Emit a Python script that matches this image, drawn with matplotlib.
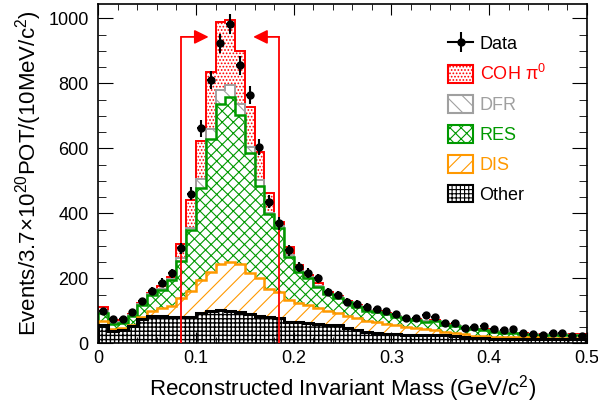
import numpy as np
import matplotlib.pyplot as plt
from matplotlib.patches import Patch
from matplotlib.lines import Line2D
from matplotlib.ticker import MultipleLocator, FuncFormatter

plt.rcParams['font.family'] = ['Liberation Sans', 'DejaVu Sans']
plt.rcParams['mathtext.fontset'] = 'custom'
plt.rcParams['mathtext.rm'] = 'Liberation Sans'
plt.rcParams['mathtext.it'] = 'Liberation Sans:italic'
plt.rcParams['hatch.linewidth'] = 0.8

# 10 MeV/c^2 bins from 0 to 0.5 GeV/c^2
edges = np.linspace(0.0, 0.5, 51)

data = np.array([100, 74, 74, 96, 129, 161, 187, 215, 292, 461,
                 662, 810, 923, 982, 856, 764, 605, 436, 369, 287,
                 234, 217, 200, 157, 149, 127, 121, 112, 105, 99,
                 90, 79, 78, 87, 82, 63, 62, 47, 49, 53,
                 43, 40, 44, 33, 28, 26, 31, 32, 21, 21])

other = np.array([55, 38, 42, 52, 74, 84, 84, 80, 80, 82,
                  92, 99, 102, 100, 97, 90, 85, 80, 77, 66,
                  64, 61, 60, 56, 55, 47, 40, 36, 32, 30,
                  29, 27, 27, 26, 26, 24, 22, 19, 17, 15,
                  14, 14, 13, 13, 12, 12, 12, 12, 12, 12])

dis = np.array([15, 6, 5, 5, 8, 16, 24, 35, 60, 78,
                103, 121, 141, 151, 147, 125, 115, 88, 82, 67,
                60, 56, 50, 43, 38, 37, 37, 33, 33, 30,
                27, 24, 19, 17, 15, 12, 9, 10, 6, 6,
                5, 4, 5, 5, 6, 5, 5, 5, 5, 5])

res = np.array([24, 15, 15, 27, 36, 49, 56, 80, 112, 189,
                282, 408, 493, 508, 458, 371, 284, 230, 195, 133,
                94, 83, 64, 52, 47, 42, 36, 30, 30, 29,
                26, 23, 26, 24, 28, 20, 23, 17, 20, 20,
                17, 15, 13, 11, 9, 9, 10, 10, 9, 9])

dfr = np.array([4, 3, 3, 3, 3, 3, 4, 4, 9, 7,
                28, 33, 45, 36, 34, 19, 18, 4, 6, 6,
                3, 3, 3, 2, 2, 2, 2, 2, 2, 2,
                1, 1, 1, 1, 1, 1, 1, 1, 1, 1,
                1, 1, 1, 1, 1, 1, 1, 1, 1, 1])

coh = np.array([15, 10, 5, 3, 4, 4, 8, 6, 44, 85,
                118, 175, 208, 200, 164, 123, 88, 60, 14, 25,
                20, 7, 8, 4, 4, 3, 2, 1, 1, 1,
                1, 1, 1, 1, 1, 1, 1, 1, 1, 1,
                1, 1, 1, 1, 1, 1, 1, 1, 1, 1])

cut_lo, cut_hi = 0.085, 0.185
arrow_y = 943

fig = plt.figure(figsize=(5.98, 4.08), dpi=100)
ax = fig.add_axes([0.1644, 0.1586, 0.8167, 0.8314])

# (values, label, colour, hatch, outline width, hatch width)
layers = [
    (other, 'Other', 'black', '++++', 2.2, 1.0),
    (dis, 'DIS', '#ff9900', '//', 1.8, 0.8),
    (res, 'RES', '#009900', 'xxx', 1.8, 0.8),
    (dfr, 'DFR', '#a0a0a0', '\\\\', 1.4, 0.8),
    (coh, 'COH π$^{\\mathrm{0}}$', 'red', '.....', 1.4, 0.8),
]

bottom = np.zeros(len(data))
tops = []
for vals, name, col, hatch, lw, hlw in layers:
    plt.rcParams['hatch.linewidth'] = hlw
    top = bottom + vals
    ax.stairs(top, edges, baseline=bottom, fill=True, facecolor='white',
              edgecolor=col, hatch=hatch, linewidth=0, zorder=1)
    tops.append(top)
    bottom = top
plt.rcParams['hatch.linewidth'] = 0.8

# outlines, drawn from the top of the stack down like THStack
for (vals, name, col, hatch, lw, hlw), top in reversed(list(zip(layers, tops))):
    ax.stairs(top, edges, baseline=0, color=col, linewidth=lw, zorder=2)

# selection cuts
for xc, xt in [(cut_lo, 0.113), (cut_hi, 0.1585)]:
    ax.plot([xc, xc], [0, arrow_y], color='red', lw=1.3, zorder=3)
    ax.annotate('', xy=(xt, arrow_y), xytext=(xc, arrow_y),
                arrowprops=dict(arrowstyle='-|>,head_length=0.85,head_width=0.42',
                                color='red', lw=1.3, shrinkA=0, shrinkB=0,
                                mutation_scale=10), zorder=3)

centers = 0.5 * (edges[:-1] + edges[1:])
ax.errorbar(centers, data, yerr=np.sqrt(data), xerr=0.004, fmt='o',
            color='black', ms=5, elinewidth=1.5, capsize=0, zorder=4)

ax.set_xlim(0, 0.5)
ax.set_ylim(0, 1044)
ax.xaxis.set_major_locator(MultipleLocator(0.1))
ax.xaxis.set_minor_locator(MultipleLocator(0.02))
ax.yaxis.set_major_locator(MultipleLocator(200))
ax.yaxis.set_minor_locator(MultipleLocator(50))
ax.xaxis.set_major_formatter(FuncFormatter(lambda v, p: f'{v:g}'))
ax.tick_params(which='both', direction='in', top=True, right=True, labelsize=13)
ax.tick_params(axis='y', which='major', length=10.5, pad=7)
ax.tick_params(axis='y', which='minor', length=5.5)
ax.tick_params(axis='x', which='major', length=8, pad=5)
ax.tick_params(axis='x', which='minor', length=4)
for s in ax.spines.values():
    s.set_linewidth(1.2)

ax.set_xlabel(r'Reconstructed Invariant Mass (GeV/c$^{\mathrm{2}}$)', fontsize=16, labelpad=4)
ax.set_ylabel(r'Events/3.7×10$^{\mathrm{20}}$POT/(10MeV/c$^{\mathrm{2}}$)', fontsize=16, labelpad=3)

data_handle = (Line2D([], [], color='black', lw=1.5),
               Line2D([], [], color='black', marker='|', ms=15, mew=1.5, ls='none'),
               Line2D([], [], color='black', marker='o', ms=5, ls='none'))
handles = [data_handle]
labels = ['Data']
text_cols = ['black']
for vals, name, col, hatch, lw, hlw in reversed(layers):
    handles.append(Patch(facecolor='white', edgecolor=col, hatch=hatch, lw=1.5))
    labels.append(name)
    text_cols.append(col)

leg = ax.legend(handles, labels, loc='upper left', bbox_to_anchor=(448 / 598, 1 - 34 / 408),
                bbox_transform=fig.transFigure, frameon=False, fontsize=13,
                handlelength=1.4, handleheight=1.15, labelspacing=0.6,
                handletextpad=0.35, borderpad=0, borderaxespad=0)
for t, c in zip(leg.get_texts(), text_cols):
    t.set_color(c)

fig.savefig('out.png', dpi=100)
